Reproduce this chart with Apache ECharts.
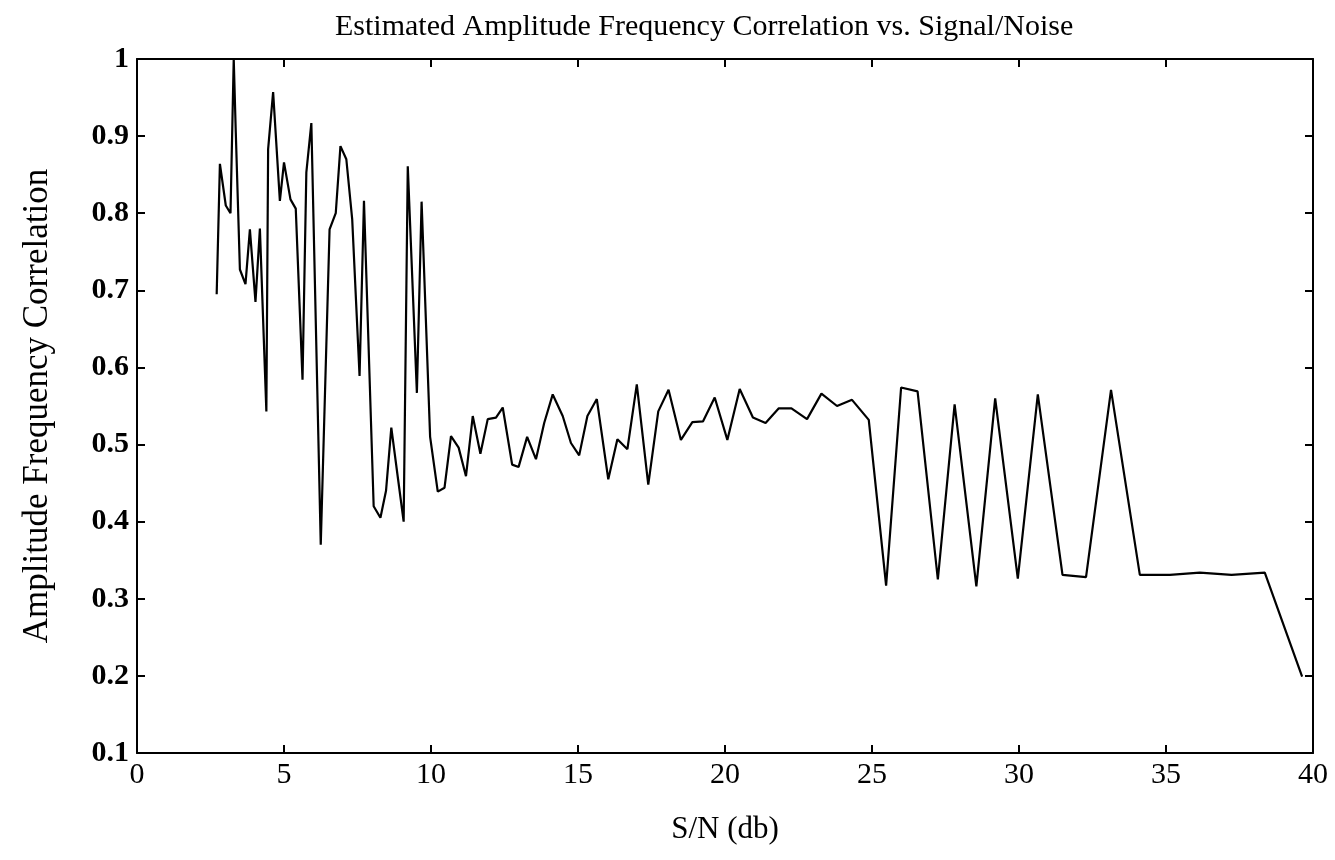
<!DOCTYPE html>
<html>
<head>
<meta charset="utf-8">
<script src="https://cdn.jsdelivr.net/npm/echarts@6/dist/echarts.min.js"></script>
<style>html,body{margin:0;padding:0;background:#fff;}#c{width:1335px;height:860px;}</style>
</head>
<body>
<div id="c"></div>
<script>
const titleText = 'Estimated Amplitude Frequency Correlation vs. Signal/Noise';
const xName = 'S/N (db)';
const yName = 'Amplitude Frequency Correlation';

const snr = [2.71, 2.82, 3.02, 3.18, 3.29, 3.36, 3.5, 3.69, 3.84, 4.03, 4.18, 4.4, 4.46, 4.63, 4.86, 5.0, 5.22, 5.4, 5.63, 5.76, 5.93, 6.25,
  6.55, 6.76, 6.92, 7.12, 7.32, 7.57, 7.72, 8.05, 8.28, 8.47, 8.65, 8.88, 9.07, 9.21, 9.52, 9.68, 9.97, 10.23,
  10.46, 10.68, 10.94, 11.19, 11.42, 11.68, 11.93, 12.21, 12.44, 12.76, 12.98, 13.27, 13.57, 13.85, 14.14, 14.48, 14.76, 15.04,
  15.32, 15.64, 16.03, 16.34, 16.68, 17.0, 17.39, 17.73, 18.08, 18.5, 18.89, 19.25, 19.65, 20.08, 20.5, 20.95, 21.38, 21.83,
  22.26, 22.79, 23.28, 23.81, 24.32, 24.89, 25.48, 25.99, 26.55, 27.24, 27.81, 28.55, 29.19, 29.96, 30.64, 31.48, 32.28,
  33.13, 34.11, 35.13, 36.15, 37.23, 38.36, 39.63];
const corr = [0.695, 0.864, 0.81, 0.80, 1.0, 0.905, 0.727, 0.708, 0.779, 0.685, 0.78, 0.543, 0.883, 0.957, 0.816, 0.866, 0.818, 0.806, 0.584, 0.853, 0.917, 0.37,
  0.779, 0.80, 0.887, 0.87, 0.792, 0.589, 0.816, 0.42, 0.405, 0.44, 0.522, 0.455, 0.40, 0.861, 0.567, 0.815, 0.51, 0.439,
  0.444, 0.511, 0.496, 0.459, 0.537, 0.488, 0.533, 0.535, 0.548, 0.474, 0.471, 0.51, 0.481, 0.528, 0.565, 0.537, 0.502, 0.486,
  0.537, 0.559, 0.455, 0.507, 0.494, 0.578, 0.448, 0.543, 0.571, 0.506, 0.529, 0.530, 0.561, 0.506, 0.572, 0.535, 0.528, 0.547,
  0.547, 0.533, 0.566, 0.55, 0.558, 0.532, 0.317, 0.574, 0.569, 0.325, 0.552, 0.316, 0.56, 0.326, 0.565, 0.331, 0.328,
  0.571, 0.331, 0.331, 0.334, 0.331, 0.334, 0.199];

const points = snr.map((x, i) => [x, corr[i]]);
const FONT = 'Liberation Serif';

const chart = echarts.init(document.getElementById('c'), null, {renderer: 'canvas'});
const tickStyle = {show: true, inside: true, length: 8, lineStyle: {color: '#000', width: 2}};
const lineStyle = {show: true, onZero: false, lineStyle: {color: '#000', width: 2}};
chart.setOption({
  backgroundColor: '#fff',
  animation: false,
  title: {
    text: titleText, left: 330, top: 7,
    textStyle: {fontFamily: FONT, fontSize: 30, fontWeight: 'normal', color: '#000'}
  },
  grid: {left: 137, right: 22, top: 59, bottom: 107, containLabel: false},
  xAxis: [{
    type: 'value', min: 0, max: 40, interval: 5, position: 'bottom',
    name: xName, nameLocation: 'middle', nameGap: 61,
    nameTextStyle: {fontFamily: FONT, fontSize: 31, color: '#000'},
    axisLine: lineStyle, axisTick: tickStyle, splitLine: {show: false},
    axisLabel: {fontFamily: FONT, fontSize: 30, color: '#000', margin: 7}
  }, {
    type: 'value', min: 0, max: 40, interval: 5, position: 'top',
    axisLine: lineStyle, axisTick: tickStyle, splitLine: {show: false},
    axisLabel: {show: false}
  }],
  yAxis: [{
    type: 'value', min: 0.1, max: 1, interval: 0.1, position: 'left',
    name: yName, nameLocation: 'middle', nameGap: 82, nameRotate: 90,
    nameTextStyle: {fontFamily: FONT, fontSize: 35, color: '#000'},
    axisLine: lineStyle, axisTick: tickStyle, splitLine: {show: false},
    axisLabel: {fontFamily: FONT, fontSize: 30, fontWeight: 'bold', color: '#000', margin: 8,
      formatter: v => String(parseFloat(v.toFixed(1)))}
  }, {
    type: 'value', min: 0.1, max: 1, interval: 0.1, position: 'right',
    axisLine: lineStyle, axisTick: tickStyle, splitLine: {show: false},
    axisLabel: {show: false}
  }],
  series: [{
    type: 'line', data: points, xAxisIndex: 0, yAxisIndex: 0,
    showSymbol: false, smooth: false,
    lineStyle: {color: '#000', width: 2.2}
  }]
});
</script>
</body>
</html>
